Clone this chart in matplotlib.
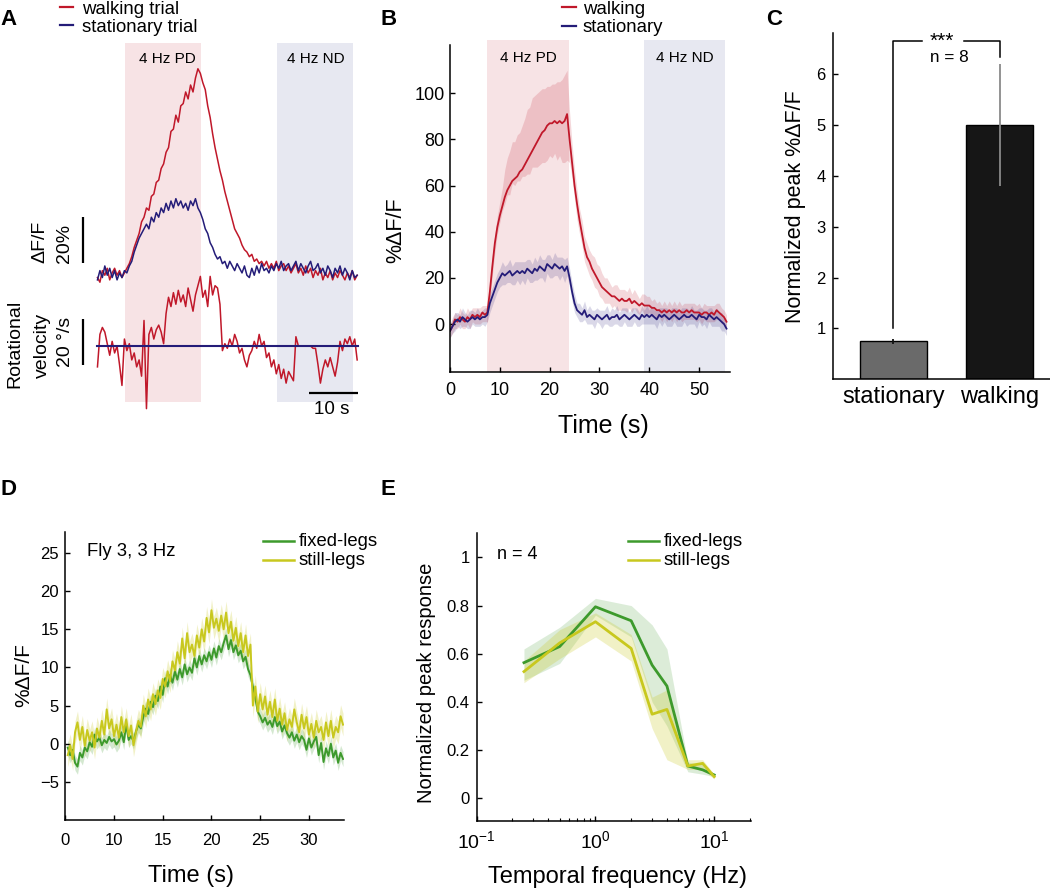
import numpy as np
import matplotlib
matplotlib.use('Agg')
import matplotlib.pyplot as plt
from matplotlib.lines import Line2D
from matplotlib.ticker import NullFormatter, LogLocator

plt.rcParams['font.family'] = ['Liberation Sans', 'DejaVu Sans']
plt.rcParams['mathtext.fontset'] = 'custom'
plt.rcParams['mathtext.rm'] = 'Liberation Sans'
plt.rcParams['mathtext.it'] = 'Liberation Sans:italic'
plt.rcParams['mathtext.bf'] = 'Liberation Sans:bold'

W, H = 1050, 888
RED = '#c0182a'
NAVY = '#241c78'
PINK = '#f7e3e5'
LAV = '#e7e8f1'
GREEN = '#3d9a2c'
YELLOW = '#c8c81e'

# ---------------- DATA ----------------
# Panel A: single trials, sampled every 0.5 s starting at 0.5 s
A_t0, A_dt = 0.5, 0.5
A_walk_dff = [-2, -4, 1, -1, 2, -3, 0, 2, -1, 1,
              -2, 0, 2, 4, 7, 11, 14, 17, 22, 24,
              28, 27, 33, 34, 39, 40, 45, 47, 52, 54,
              61, 62, 68, 65, 72, 73, 78, 75, 81, 78,
              84, 88, 86, 82, 79, 72, 67, 60, 54, 49,
              44, 40, 35, 31, 27, 23, 19, 17, 15, 12,
              10, 9, 7, 8, 5, 6, 4, 5, 3, 5,
              2, 4, 2, 5, 1, 3, 4, 1, 3, 0,
              2, 4, 0, 2, -1, 3, 0, 2, -2, 1,
              -1, 2, -3, 0, -2, 1, -3, 0, -2, 1,
              -1, -3, 0, -2, 1, -3, -1]
A_stat_dff = [-3, 1, -2, 3, -1, 2, -2, 1, -3, 0,
              -2, 1, 0, 3, 5, 9, 12, 15, 17, 19,
              21, 19, 24, 22, 26, 24, 28, 26, 30, 27,
              31, 28, 32, 29, 31, 28, 30, 27, 31, 29,
              32, 28, 26, 23, 19, 17, 13, 11, 8, 6,
              7, 4, 5, 2, 5, 3, 1, 4, 2, 0,
              3, -1, -2, 2, -1, 3, 0, 4, 1, 2,
              0, 3, 1, 4, 2, 5, 1, 3, 4, 1,
              3, 5, 1, 4, 2, 0, 3, 5, 1, 2,
              4, 0, 2, -1, 3, 1, -2, 2, 0, 3,
              -1, 2, 0, -3, 1, -2, -1]
A_walk_vel = [-9, 5, 8, 6, 1, -4, 2, -3, 0, -8,
              -17, 3, -2, 1, -6, -3, -9, -6, -13, 11,
              -27, 5, 8, 3, 7, 9, 6, 1, 14, 21,
              17, 23, 18, 24, 19, 22, 17, 25, 20, 15,
              22, 26, 30, 21, 24, 17, 30, 22, 26, 25,
              18, -2, 1, -1, 3, 0, 5, 2, -3, -1,
              -6, -9, -4, -2, 2, -1, 5, 0, 2, -5,
              -3, -9, -6, -12, -8, -14, -10, -16, -11, -13,
              -15, 4, 0, 0, 0, 0, 0, 0, -1, -1,
              -8, -16, -10, -6, -9, -5, -9, -13, -7, 2,
              -2, 3, 1, 4, 0, 3, -6]
A_stat_vel_t = [0.4, 53.7]
A_stat_vel = [0, 0]
A_PD = (6.1, 21.6)
A_ND = (37.1, 52.65)

# Panel B: mean traces, sampled every 0.5 s from 0 s
B_t0, B_dt = 0.0, 0.5
B_walk = [-3, -1, 2, 1, 3, 2, 1, 3, 2, 4,
          3, 4, 3, 5, 4, 5, 14, 25, 35, 42,
          47, 51, 55, 58, 60, 62, 63, 64, 66, 67,
          69, 71, 73, 75, 77, 79, 81, 83, 84, 86,
          87, 87, 88, 87, 88, 87, 88, 91, 80, 70,
          60, 52, 45, 39, 33, 29, 27, 24, 22, 20,
          18, 16, 15, 14, 13, 12, 12, 11, 10, 11,
          10, 10, 11, 9, 10, 9, 8, 9, 8, 8,
          8, 7, 7, 6, 6, 5, 6, 5, 6, 5,
          6, 5, 6, 5, 5, 6, 5, 6, 5, 5,
          5, 4, 5, 5, 4, 5, 4, 6, 5, 4,
          3, 1]
B_walk_up = [3, 4, 3, 3, 4, 3, 3, 4, 3, 3,
             4, 3, 4, 3, 4, 3, 4, 5, 4, 5,
             6, 8, 12, 14, 15, 17, 16, 18, 17, 19,
             20, 22, 21, 23, 22, 21, 20, 19, 18, 17,
             16, 17, 16, 18, 17, 19, 20, 19, 12, 8,
             7, 6, 5, 6, 5, 6, 5, 6, 7, 6,
             7, 6, 5, 6, 5, 4, 5, 6, 5, 4,
             5, 4, 5, 4, 5, 4, 3, 4, 5, 4,
             4, 3, 4, 3, 4, 3, 4, 3, 4, 3,
             4, 3, 4, 3, 4, 3, 4, 3, 4, 3,
             4, 3, 4, 3, 4, 3, 4, 3, 4, 3,
             3, 3]
B_walk_dn = [3, 3, 4, 3, 3, 4, 3, 3, 4, 3,
             3, 4, 3, 4, 3, 4, 3, 4, 4, 3,
             3, 2, 3, 2, 4, 1, 3, 2, 4, 3,
             5, 6, 8, 7, 9, 11, 12, 13, 14, 15,
             14, 15, 14, 16, 15, 17, 18, 20, 10, 7,
             6, 7, 6, 5, 6, 5, 6, 5, 6, 5,
             6, 5, 6, 5, 4, 5, 4, 5, 4, 5,
             4, 5, 4, 4, 3, 4, 4, 3, 4, 4,
             3, 4, 3, 4, 3, 4, 3, 4, 3, 4,
             3, 4, 3, 4, 3, 4, 3, 4, 3, 4,
             3, 4, 3, 4, 3, 4, 3, 4, 3, 4,
             3, 3]
B_stat = [-3, -1, 1, 2, 1, 3, 2, 1, 2, 3,
          2, 3, 2, 3, 3, 4, 9, 12, 15, 18,
          20, 22, 21, 22, 23, 21, 22, 23, 22, 23,
          22, 24, 23, 22, 24, 23, 25, 24, 23, 26,
          25, 24, 26, 25, 24, 25, 23, 25, 20, 14,
          9, 6, 5, 4, 6, 3, 4, 3, 2, 4,
          3, 2, 3, 4, 2, 3, 3, 4, 2, 3,
          4, 3, 2, 3, 4, 3, 2, 4, 3, 4,
          3, 4, 3, 2, 4, 3, 4, 3, 2, 3,
          4, 3, 2, 3, 4, 3, 3, 4, 3, 2,
          4, 3, 3, 2, 4, 3, 2, 3, 2, 1,
          0, -2]
B_stat_sem = [3, 3, 4, 3, 3, 4, 3, 3, 4, 3,
              3, 4, 3, 3, 4, 3, 4, 4, 4, 4,
              4, 5, 4, 4, 5, 4, 5, 4, 5, 4,
              5, 4, 5, 4, 5, 4, 5, 4, 5, 4,
              5, 4, 5, 4, 5, 4, 5, 4, 4, 4,
              4, 3, 4, 3, 4, 3, 4, 3, 4, 3,
              3, 4, 3, 4, 3, 4, 3, 4, 3, 4,
              3, 4, 3, 4, 3, 4, 3, 4, 3, 4,
              3, 4, 3, 4, 3, 4, 3, 4, 3, 4,
              3, 4, 3, 4, 3, 4, 3, 4, 3, 4,
              3, 4, 3, 4, 3, 4, 3, 4, 3, 4,
              3, 3]
B_PD = (7.5, 23.9)
B_ND = (39.0, 55.2)

# Panel C
C_conditions = ['stationary', 'walking']
C_values = [0.75, 5.0]
C_err_lo = [0.70, 3.8]
C_err_hi = [0.80, 6.2]
C_colors = ['#6a6a6a', '#161616']
C_errcolors = ['#111111', '#8a8a8a']

# Panel D: one fly, sampled every 0.25 s from 5.25 (axis origin labelled 0)
D_t0, D_dt = 5.25, 0.25
D_fixed = [-0.5, -1.5, -0.8, -2.5,
           -3.0, -1.2, -1.8, -0.5,
           -1.0, 0.2, -0.4, 1.2,
           0.3, 0.8, -0.2, 0.5,
           0.1, 0.9, 0.3, 0.6,
           -0.1, 0.4, 1.5, 0.2,
           2.6, 0.5, 1.0, 0.3,
           1.6, 2.5, 2.0, 3.5,
           4.6, 3.9, 5.5, 4.8,
           6.3, 5.6, 7.5, 6.4,
           8.6, 7.5, 9.0, 8.0,
           9.5, 8.4, 9.8, 8.7,
           10.4, 9.1, 10.0, 9.3,
           11.2, 10.0, 11.5, 10.4,
           11.6, 10.8, 12.0, 11.0,
           12.5, 11.3, 12.8, 12.0,
           13.2, 14.2, 12.4, 13.6,
           12.0, 12.9, 11.6, 12.2,
           10.8, 11.4, 9.8, 9.0,
           7.5, 6.0, 4.2, 3.6,
           2.8, 3.4, 2.5, 3.0,
           2.2, 3.5, 2.3, 2.9,
           1.6, 2.4, 1.4, 0.8,
           1.5, 0.4, 1.2, 0.2,
           1.0, 0.5, -0.8, 0.7,
           -0.5, 0.3, 0.9, -1.5,
           0.1, -2.4, -0.6, -1.6,
           0.0, -1.8, -0.9, -2.5,
           -1.2, -2.0]
D_still = [-1.5, -0.2, -2.0, 1.5,
           2.8, 0.5, 2.2, -0.3,
           1.8, 0.4, 1.5, -0.5,
           2.0, 0.8, 3.0, 1.2,
           4.5, 2.0, 3.2, 1.0,
           2.5, 0.8, 3.5, 1.5,
           3.2, 1.0, 2.4, -0.2,
           1.5, 3.0, 2.2, 5.0,
           3.6, 5.8, 4.5, 6.5,
           5.2, 7.0, 6.0, 8.5,
           7.5, 9.5, 8.2, 10.8,
           9.6, 12.0, 10.5, 13.8,
           11.2, 14.5, 12.0, 13.0,
           11.5, 14.2, 12.6, 15.0,
           13.4, 16.5, 14.6, 17.5,
           15.2, 16.4, 14.8, 16.8,
           15.0, 17.2, 14.5, 16.0,
           13.5, 15.2, 12.8, 14.5,
           12.0, 14.2, 11.5, 13.0,
           5.0, 7.5, 4.2, 6.5,
           4.5, 6.2, 3.8, 5.5,
           3.5, 5.8, 3.0, 4.6,
           2.5, 4.0, 1.8, 3.2,
           2.2, 4.5, 2.8, 1.5,
           3.8, 2.0, 3.5, 1.2,
           2.6, 0.8, 3.0, 1.5,
           2.2, 0.5, 2.8, 1.0,
           3.0, 0.8, 2.2, 1.5,
           3.6, 2.5]
D_fixed_sem = 1.0
D_still_sem = 1.5
D_xticks = [5, 10, 15, 20, 25, 30]
D_xticklabels = ['0', '10', '15', '20', '25', '30']
D_yticks = [-5, 0, 5, 10, 15, 20, 25]

# Panel E: tuning curves
E_freq = [0.25, 0.5, 1, 2, 3, 4, 6, 8, 10]
E_fixed = [0.563, 0.63, 0.795, 0.737, 0.553, 0.466, 0.134, 0.118, 0.097]
E_fixed_lo = [0.49, 0.56, 0.76, 0.67, 0.40, 0.30, 0.11, 0.10, 0.09]
E_fixed_hi = [0.62, 0.71, 0.83, 0.80, 0.72, 0.62, 0.15, 0.14, 0.10]
E_still = [0.526, 0.645, 0.733, 0.622, 0.349, 0.369, 0.134, 0.145, 0.09]
E_still_lo = [0.48, 0.58, 0.67, 0.57, 0.29, 0.16, 0.12, 0.12, 0.08]
E_still_hi = [0.57, 0.70, 0.77, 0.68, 0.42, 0.45, 0.16, 0.16, 0.10]
E_yticks = [0, 0.2, 0.4, 0.6, 0.8, 1]
E_yticklabels = ['0', '0.2', '0.4', '0.6', '0.8', '1']

# ---------------- FIGURE ----------------
fig = plt.figure(figsize=(W / 100, H / 100), dpi=100)


def axes_px(left, top, right, bottom):
    return fig.add_axes([left / W, 1 - bottom / H, (right - left) / W, (bottom - top) / H])


def ftext(x, y, s, **kw):
    return fig.text(x / W, 1 - y / H, s, **kw)


def fline(x0, x1, y, color, lw=1.6):
    fig.add_artist(Line2D([x0 / W, x1 / W], [1 - y / H, 1 - y / H], color=color, lw=lw,
                          transform=fig.transFigure))


def style(ax, labelsize):
    for s in ['top', 'right']:
        ax.spines[s].set_visible(False)
    for s in ['left', 'bottom']:
        ax.spines[s].set_linewidth(1.1)
    ax.tick_params(direction='in', length=3.5, width=1.0, labelsize=labelsize)


# panel letters
for lab, x, y in [('A', 0, 25), ('B', 381, 25), ('C', 766, 25), ('D', 1, 495), ('E', 381, 495)]:
    ftext(x, y, lab, fontsize=16, fontweight='bold', va='baseline', ha='left')

# ---- Panel A ----
axA = axes_px(10, 40, 365, 420)
axA.set_xlim(-17.35, 55.1)
axA.set_ylim(-63.4, 100.4)
axA.axis('off')
VEL_OFF = -31.5
axA.axvspan(*A_PD, ymin=0.047, ymax=0.992, color=PINK, lw=0, zorder=0)
axA.axvspan(*A_ND, ymin=0.047, ymax=0.992, color=LAV, lw=0, zorder=0)
tA = A_t0 + A_dt * np.arange(len(A_walk_dff))
axA.plot(tA, A_walk_dff, color=RED, lw=1.1)
axA.plot(tA, A_stat_dff, color=NAVY, lw=1.1)
axA.plot(tA, np.array(A_walk_vel) + VEL_OFF, color=RED, lw=1.1)
axA.plot(A_stat_vel_t, np.array(A_stat_vel) + VEL_OFF, color=NAVY, lw=1.5)
# scale bars: 20 % dF/F, 20 deg/s, 10 s
axA.plot([-2.5, -2.5], [4.3, 4.3 + 20], color='k', lw=1.6, solid_capstyle='butt')
axA.plot([-2.5, -2.5], [VEL_OFF - 8.2, VEL_OFF - 8.2 + 20], color='k', lw=1.6, solid_capstyle='butt')
axA.plot([43.6, 43.6 + 10], [-51.7, -51.7], color='k', lw=1.6, solid_capstyle='butt', clip_on=False)
ftext(332, 414, '10 s', fontsize=13.5, ha='center', va='baseline')
ftext(40, 242, 'ΔF/F', fontsize=14, rotation=90, ha='center', va='center')
ftext(64, 243, '20%', fontsize=14, rotation=90, ha='center', va='center')
ftext(15, 344, 'Rotational', fontsize=14, rotation=90, ha='center', va='center')
ftext(42, 345, 'velocity', fontsize=14, rotation=90, ha='center', va='center')
ftext(66, 342, '20 °/s', fontsize=14, rotation=90, ha='center', va='center')
ftext(167, 63, '4 Hz PD', fontsize=11, ha='center', va='baseline')
ftext(316, 63, '4 Hz ND', fontsize=11, ha='center', va='baseline')
fline(60, 73, 7.5, RED)
fline(60, 73, 25.5, NAVY)
ftext(82, 13.5, 'walking trial', fontsize=13.4, ha='left', va='baseline')
ftext(82, 32, 'stationary trial', fontsize=13.4, ha='left', va='baseline')

# ---- Panel B ----
axB = axes_px(450, 40, 730, 372)
style(axB, 13)
axB.set_xlim(0, 56.2)
axB.set_ylim(-20.8, 123.1)
axB.spines['left'].set_bounds(-20.8, 121)
axB.axvspan(*B_PD, color=PINK, lw=0, zorder=0)
axB.axvspan(*B_ND, color=LAV, lw=0, zorder=0)
tB = B_t0 + B_dt * np.arange(len(B_walk))
bw = np.array(B_walk, float)
bs = np.array(B_stat, float)
axB.fill_between(tB, bw - np.array(B_walk_dn), bw + np.array(B_walk_up), color=RED, alpha=0.17, lw=0)
axB.fill_between(tB, bs - np.array(B_stat_sem), bs + np.array(B_stat_sem), color=NAVY, alpha=0.17, lw=0)
axB.plot(tB, bw, color=RED, lw=1.3)
axB.plot(tB, bs, color=NAVY, lw=1.3)
axB.set_xticks([0, 10, 20, 30, 40, 50])
axB.set_yticks([0, 20, 40, 60, 80, 100])
axB.tick_params(axis='x', pad=7)
axB.tick_params(axis='y', pad=4)
axB.text(np.mean(B_PD), 115.5, '4 Hz PD', fontsize=11, ha='center', va='center')
axB.text(np.mean(B_ND), 115.5, '4 Hz ND', fontsize=11, ha='center', va='center')
ftext(603, 433, 'Time (s)', fontsize=18, ha='center', va='baseline')
ftext(396, 230, '%ΔF/F', fontsize=15.5, rotation=90, ha='center', va='center')
fline(562, 576, 7.5, RED)
fline(562, 576, 26.5, NAVY)
ftext(583, 14, 'walking', fontsize=13.4, ha='left', va='baseline')
ftext(583, 32.5, 'stationary', fontsize=13.4, ha='left', va='baseline')

# ---- Panel C ----
axC = axes_px(832.7, 33, 1050, 379.2)
style(axC, 12)
axC.set_xlim(0.43, 2.47)
axC.set_ylim(0, 6.81)
xC = np.arange(1, len(C_values) + 1)
axC.bar(xC, C_values, width=0.63, color=C_colors, edgecolor='k', lw=1.0, zorder=2)
axC.vlines(xC, C_err_lo, C_err_hi, colors=C_errcolors, lw=1.3, zorder=3)
axC.set_yticks([1, 2, 3, 4, 5, 6])
axC.set_xticks(xC)
axC.set_xticklabels(C_conditions, fontsize=17)
axC.tick_params(axis='x', length=0, pad=5)
axC.tick_params(axis='y', pad=5)
sig_y, sig_low, sig_right_low = 6.655, 1.0, 6.33
axC.plot([1, 1, 1.27], [sig_low, sig_y, sig_y], color='k', lw=1.1, clip_on=False)
axC.plot([1.665, 2, 2], [sig_y, sig_y, sig_right_low], color='k', lw=1.1, clip_on=False)
ftext(930, 47, '***', fontsize=15, ha='left', va='baseline')
ftext(930, 61.7, 'n = 8', fontsize=12.3, ha='left', va='baseline')
ftext(796, 207, 'Normalized peak %ΔF/F', fontsize=15.5, rotation=90, ha='center', va='center')

# ---- Panel D ----
axD = axes_px(65.3, 531.7, 344, 820)
style(axD, 12)
axD.set_xlim(5, 33.6)
axD.set_ylim(-10, 27.8)
tD = D_t0 + D_dt * np.arange(len(D_fixed))
df = np.array(D_fixed)
dsl = np.array(D_still)
axD.fill_between(tD, df - D_fixed_sem, df + D_fixed_sem, color=GREEN, alpha=0.22, lw=0)
axD.fill_between(tD, dsl - D_still_sem, dsl + D_still_sem, color=YELLOW, alpha=0.25, lw=0)
axD.plot(tD, df, color=GREEN, lw=1.4)
axD.plot(tD, dsl, color=YELLOW, lw=1.4)
axD.set_xticks(D_xticks)
axD.set_xticklabels(D_xticklabels)
axD.set_yticks(D_yticks)
axD.tick_params(axis='x', pad=9)
axD.tick_params(axis='y', pad=4.5)
ftext(191, 882, 'Time (s)', fontsize=17, ha='center', va='baseline')
ftext(24, 675, '%ΔF/F', fontsize=15, rotation=90, ha='center', va='center')
ftext(87, 556, 'Fly 3, 3 Hz', fontsize=13.3, ha='left', va='baseline')
fline(263, 294, 541, GREEN, lw=1.8)
fline(263, 294, 560, YELLOW, lw=1.8)
ftext(299, 546, 'fixed-legs', fontsize=13.3, ha='left', va='baseline')
ftext(299, 565, 'still-legs', fontsize=13.3, ha='left', va='baseline')

# ---- Panel E ----
axE = axes_px(476.7, 533.3, 750.7, 820.7)
style(axE, 12)
axE.set_xscale('log')
axE.set_xlim(0.1, 20.3)
axE.set_ylim(-0.093, 1.10)
axE.fill_between(E_freq, E_fixed_lo, E_fixed_hi, color=GREEN, alpha=0.18, lw=0)
axE.fill_between(E_freq, E_still_lo, E_still_hi, color=YELLOW, alpha=0.25, lw=0)
axE.plot(E_freq, E_fixed, color=GREEN, lw=2.0)
axE.plot(E_freq, E_still, color=YELLOW, lw=2.0)
axE.set_xticks([0.1, 1, 10])
axE.xaxis.set_minor_locator(LogLocator(base=10, subs=np.arange(2, 10)))
axE.xaxis.set_minor_formatter(NullFormatter())
axE.tick_params(axis='x', which='minor', direction='in', length=2, width=0.8)
axE.tick_params(axis='x', which='major', pad=7, labelsize=14)
axE.tick_params(axis='y', pad=5)
axE.set_yticks(E_yticks)
axE.set_yticklabels(E_yticklabels)
ftext(618, 883, 'Temporal frequency (Hz)', fontsize=17, ha='center', va='baseline')
ftext(426, 683, 'Normalized peak response', fontsize=14.5, rotation=90, ha='center', va='center')
ftext(497, 559, 'n = 4', fontsize=13, ha='left', va='baseline')
fline(628, 659, 541, GREEN, lw=1.8)
fline(628, 659, 560, YELLOW, lw=1.8)
ftext(664, 546, 'fixed-legs', fontsize=13.3, ha='left', va='baseline')
ftext(664, 565, 'still-legs', fontsize=13.3, ha='left', va='baseline')

fig.savefig('out.png', dpi=100)
